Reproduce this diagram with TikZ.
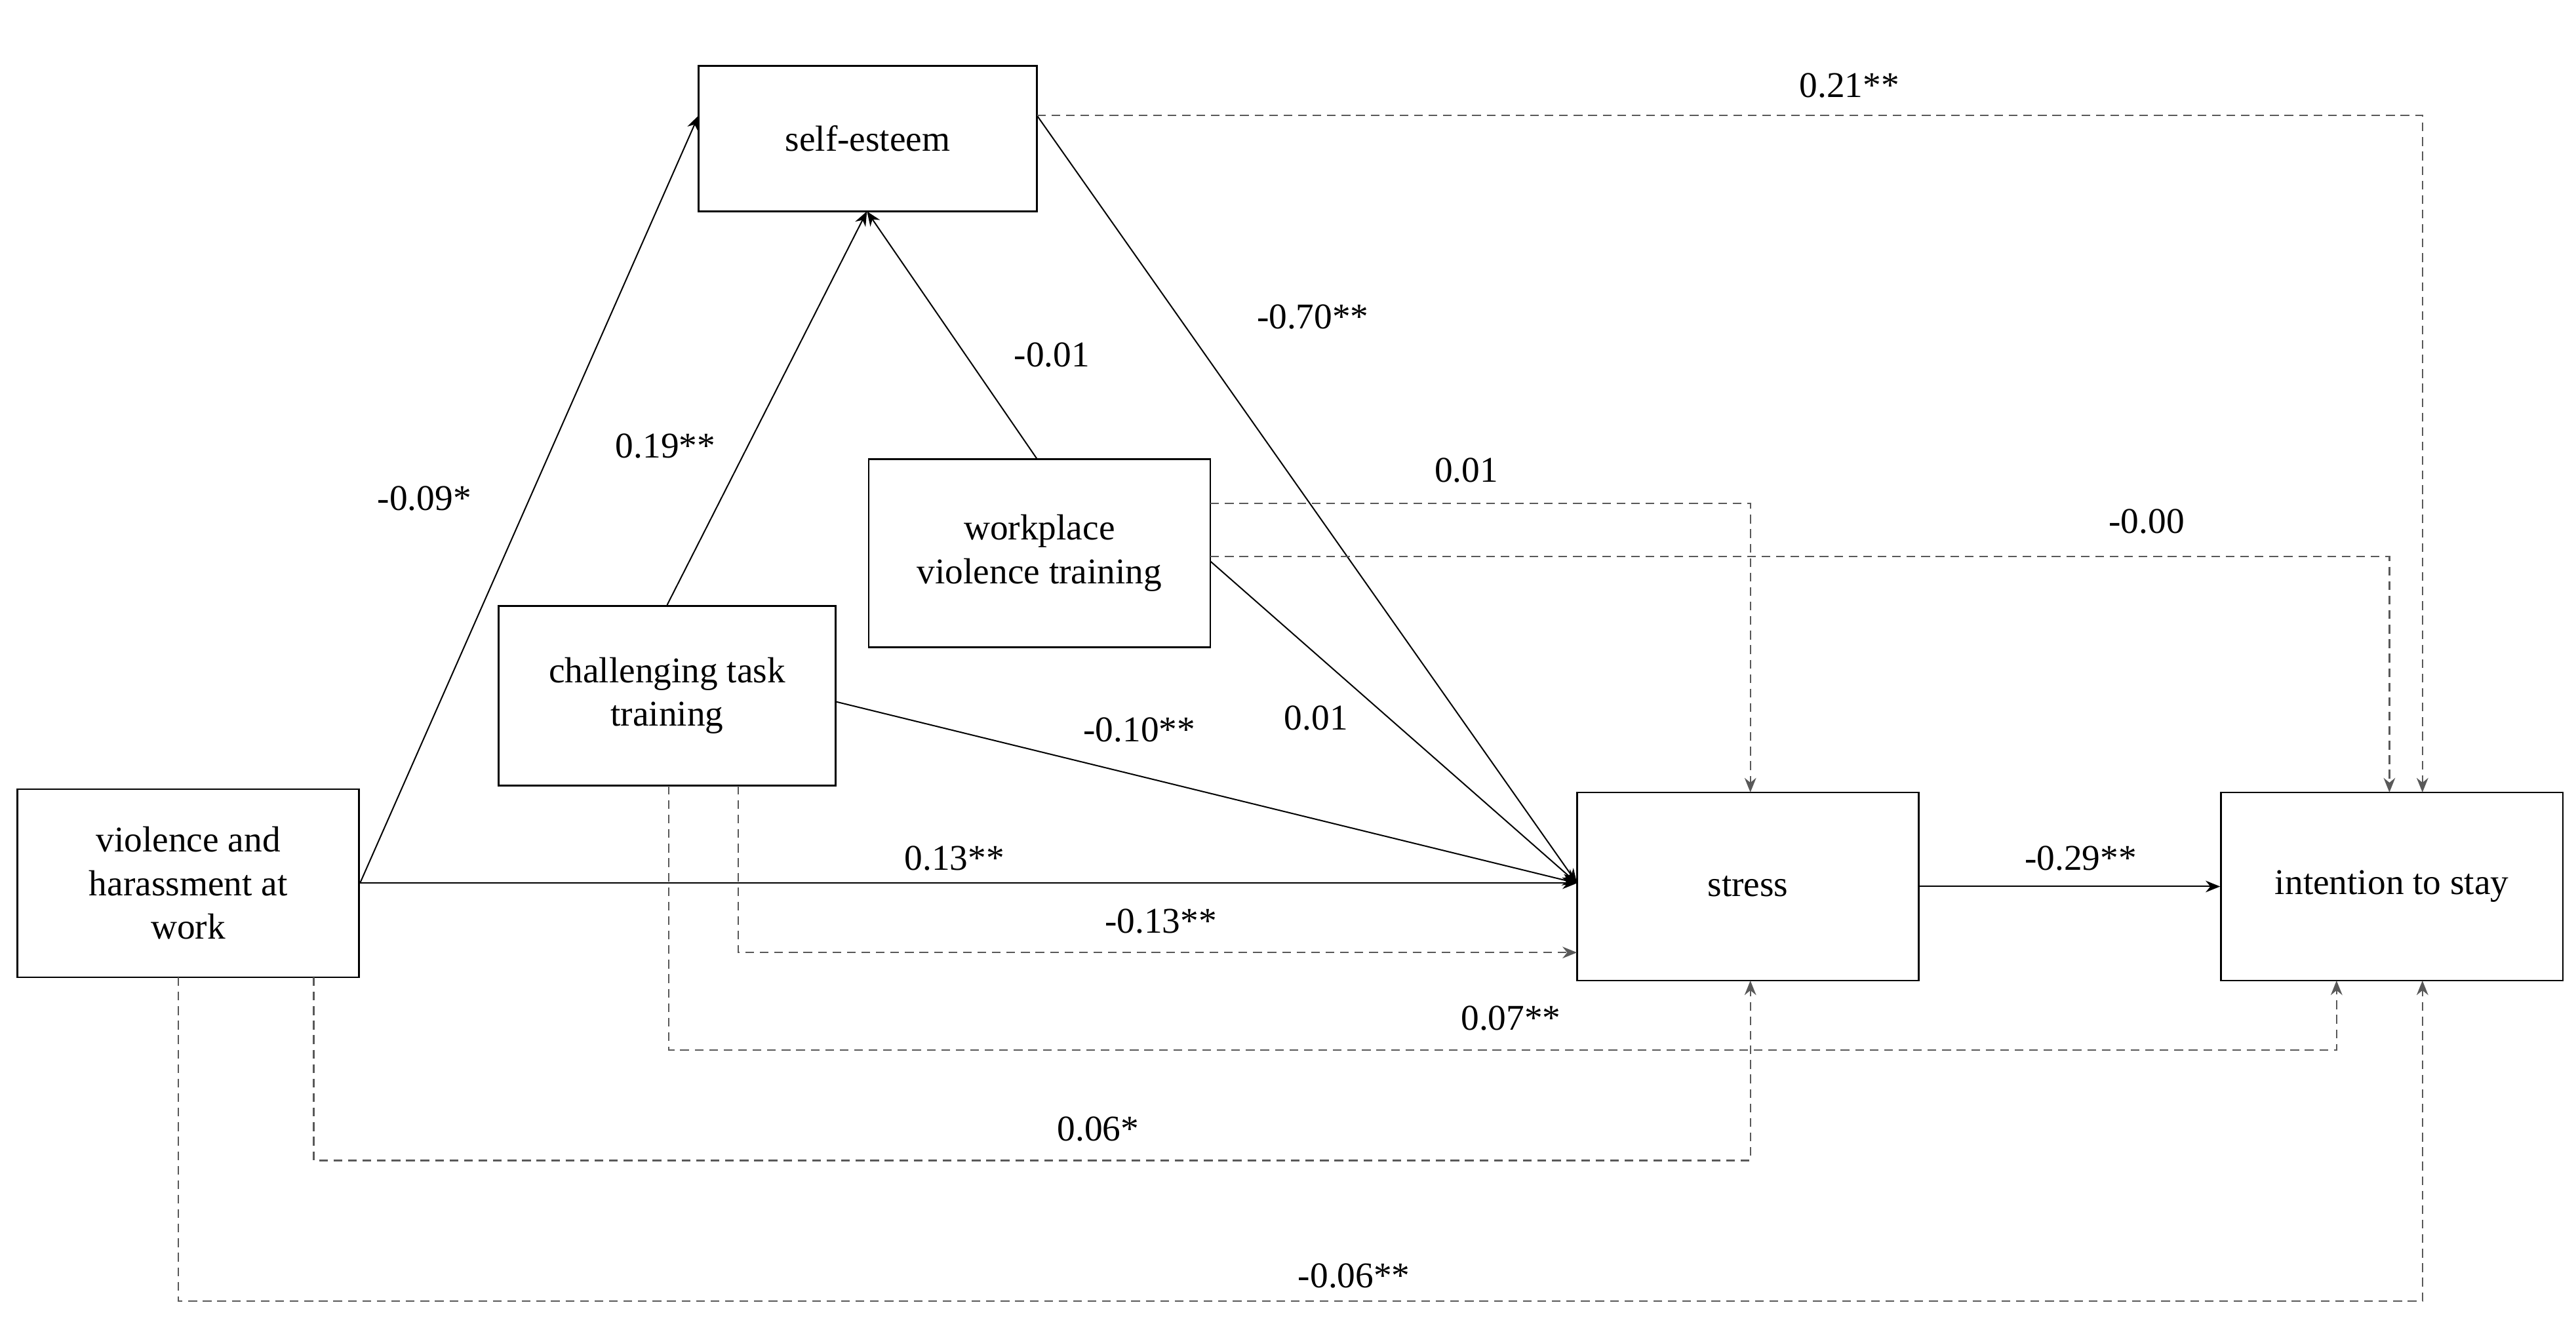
\documentclass[tikz,border=0pt]{standalone}
\usepackage{fontspec}
\setmainfont{Liberation Serif}
\usetikzlibrary{arrows.meta}
\begin{document}
\begin{tikzpicture}[x=0.02cm,y=-0.02cm,
  box/.style={draw,line width=0.6pt,minimum width=4.14cm,minimum height=2.28cm,align=center,font=\fontsize{12.5}{15}\selectfont,inner sep=2pt},
  lab/.style={font=\fontsize{12.5}{15}\selectfont,inner sep=0pt},
  sol/.style={line width=0.45pt,-{Stealth[length=5pt,width=4pt]}},
  das/.style={line width=0.5pt,gray!70!black,dash pattern=on 3pt off 2pt,-{Stealth[length=5pt,width=4pt]}}]
\useasboundingbox (0,0) rectangle (1560,803);
\node[box,minimum width=4.1cm,minimum height=1.76cm] (se) at (525.5,84) {self-esteem};
\node[box] (wv) at (629.5,335) {workplace\\violence training};
\node[box,minimum width=4.08cm,minimum height=2.18cm] (ct) at (404,421.5) {challenging task\\training};
\node[box] (vh) at (114,535) {violence and\\harassment at\\work};
\node[box] (st) at (1058.5,537) {stress};
\node[box] (is) at (1448.5,537) {intention to stay};
% solid
\coordinate (seL) at (423,70);
\coordinate (seR) at (628,70);
\coordinate (seB) at (525,128);
\coordinate (stL) at (955,535);
\draw[sol] (vh.east) -- (seL);
\draw[sol] (ct.north) -- (seB);
\coordinate (wvT) at (628,278);
\draw[sol] (wvT) -- (seB);
\draw[sol] (seR) -- (stL);
\coordinate (wvR) at (733,340);
\draw[sol] (wvR) -- (stL);
\coordinate (ctR) at (506,425);
\draw[sol] (ctR) -- (stL);
\draw[sol] (vh.east) -- (stL);
\draw[sol] (st.east) -- (is.west);
% dashed
\draw[das] (seR) -| (1467,480);
\coordinate (wvR1) at (733,305);
\draw[das] (wvR1) -| (1060,480);
\coordinate (wvR2) at (733,337);
\draw[das] (wvR2) -| (1447,480);
\coordinate (ctB1) at (447,476);
\draw[das] (ctB1) |- (955,577);
\coordinate (ctB2) at (405,476);
\draw[das] (ctB2) -- (405,636) -| (1415,594);
\coordinate (vhB1) at (190,592);
\draw[das] (vhB1) -- (190,703) -| (1060,594);
\coordinate (vhB2) at (108,592);
\draw[das] (vhB2) -- (108,788) -| (1467,594);
% labels
\node[lab] at (1120,52) {0.21**};
\node[lab] at (257,302) {-0.09*};
\node[lab] at (403,270) {0.19**};
\node[lab] at (637,215) {-0.01};
\node[lab] at (795,192) {-0.70**};
\node[lab] at (888,285) {0.01};
\node[lab] at (1300,316) {-0.00};
\node[lab] at (797,435) {0.01};
\node[lab] at (690,442) {-0.10**};
\node[lab] at (578,520) {0.13**};
\node[lab] at (703,558) {-0.13**};
\node[lab] at (1260,520) {-0.29**};
\node[lab] at (915,617) {0.07**};
\node[lab] at (665,684) {0.06*};
\node[lab] at (820,773) {-0.06**};
\end{tikzpicture}
\end{document}
